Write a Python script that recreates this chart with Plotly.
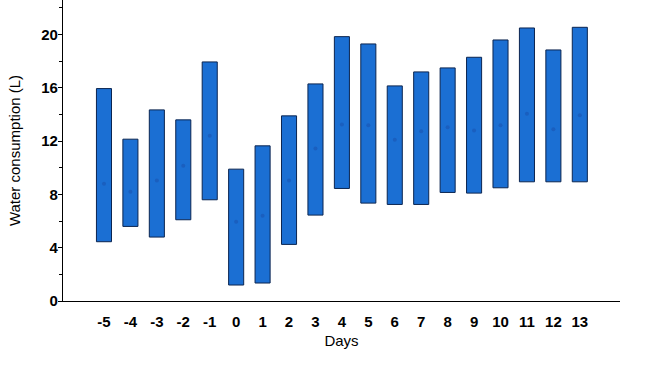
import plotly.graph_objects as go

days = ["-5", "-4", "-3", "-2", "-1", "0", "1", "2", "3", "4", "5", "6", "7", "8", "9", "10", "11", "12", "13"]
low = [4.45, 5.6, 4.8, 6.1, 7.6, 1.2, 1.35, 4.25, 6.45, 8.45, 7.35, 7.25, 7.25, 8.15, 8.1, 8.5, 8.95, 8.95, 8.95]
high = [15.95, 12.15, 14.35, 13.6, 17.95, 9.9, 11.65, 13.9, 16.3, 19.85, 19.3, 16.15, 17.2, 17.5, 18.3, 19.6, 20.5, 18.85, 20.55]
mean = [8.8, 8.2, 9.05, 10.15, 12.4, 5.95, 6.4, 9.05, 11.45, 13.25, 13.2, 12.1, 12.75, 13.05, 12.8, 13.2, 14.05, 12.9, 13.95]

y_major = [0, 4, 8, 12, 16, 20]
y_minor = [2, 6, 10, 14, 18, 22]

idx = list(range(len(days)))

fig = go.Figure()
fig.add_trace(go.Bar(
    x=idx,
    y=[h - l for h, l in zip(high, low)],
    base=low,
    width=0.57,
    marker=dict(color="#1b6fd3", line=dict(color="#0b2550", width=1)),
    hoverinfo="skip",
))
fig.add_trace(go.Scatter(
    x=idx, y=mean, mode="markers",
    marker=dict(color="#1a5fbf", size=4),
    hoverinfo="skip",
))

fig.update_layout(
    width=650, height=366,
    margin=dict(l=63, r=30, t=0, b=65),
    paper_bgcolor="white", plot_bgcolor="white",
    showlegend=False,
    font=dict(family="Liberation Sans, Arial, sans-serif", color="black"),
)
fig.update_xaxes(
    range=[-1.55, 19.52],
    tickvals=idx, ticktext=days,
    tickfont=dict(size=15, weight="bold", color="black"),
    ticks="", ticklabelstandoff=7,
    showline=True, linecolor="black", linewidth=1.3,
    showgrid=False, zeroline=False,
    title=dict(text="Days", font=dict(size=15), standoff=6),
)
fig.update_yaxes(
    range=[0, 22.6],
    tickvals=y_major, ticktext=[str(v) for v in y_major],
    tickfont=dict(size=15, weight="bold", color="black"),
    ticks="outside", ticklen=4, tickcolor="black", tickwidth=1,
    ticklabelstandoff=-3,
    minor=dict(tickvals=y_minor, ticks="outside", ticklen=3, tickcolor="black", tickwidth=1),
    showline=True, linecolor="black", linewidth=1.3,
    showgrid=False, zeroline=False,
    title=dict(text="Water consumption (L)", font=dict(size=15), standoff=16),
)

fig.write_html("out.html")
